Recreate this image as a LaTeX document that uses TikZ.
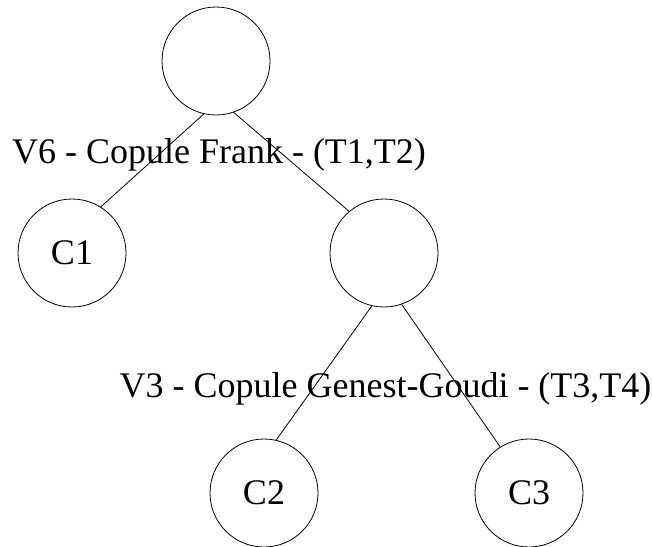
\documentclass[tikz,border=0pt]{standalone}
\usepackage{fontspec}
\setmainfont{Liberation Serif}
\begin{document}
\begin{tikzpicture}[x=1pt,y=-1pt,
  vert/.style={circle,draw,line width=0.8pt,minimum size=108pt,inner sep=0pt,font=\fontsize{36}{40}\selectfont},
  lab/.style={inner sep=0pt,anchor=base,font=\fontsize{36}{40}\selectfont},
  edge/.style={line width=0.8pt}]
\useasboundingbox (0,0) rectangle (652,546);
\clip (0,0) rectangle (652,546);
\node[vert] (n0) at (216,61) {};
\node[vert] (c1) at (72,253) {C1};
\node[vert] (n1) at (384,253) {};
\node[vert] (c2) at (264,493) {C2};
\node[vert] (c3) at (529,493) {C3};
\draw[edge] (n0.257.5) -- (c1.58);
\draw[edge] (n0.289) -- (n1.130);
\draw[edge] (n1.257.5) -- (c2.77.5);
\draw[edge] (n1.289) -- (c3.122.5);
\node[lab] (l1) at (219,163) {V6 - Copule Frank - (T1,T2)};
\node[lab] (l2) at (385.5,397) {V3 - Copule Genest-Goudi - (T3,T4)};
\end{tikzpicture}
\end{document}
